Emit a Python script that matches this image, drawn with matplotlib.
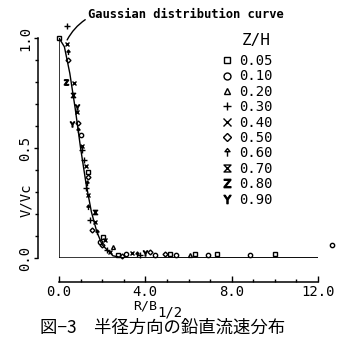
import matplotlib
matplotlib.use("Agg")
import matplotlib.pyplot as plt
from matplotlib.path import Path
from matplotlib.lines import Line2D

plt.rcParams["font.family"] = ["DejaVu Sans Mono", "DejaVu Sans"]

# Z/H groups and their marker keys
z_labels = ["0.05", "0.10", "0.20", "0.30", "0.40", "0.50", "0.60", "0.70", "0.80", "0.90"]

# Measured points (R/B1/2, V/Vc, group index)
pts_x = [0.0, 0.37, 0.37, 0.42, 0.42, 0.32, 0.69, 0.65, 0.83, 0.83,
         0.60, 0.88, 0.88, 1.02, 1.06, 1.06, 1.16, 1.25, 1.34, 1.34,
         1.30, 1.25, 1.34, 1.34, 1.67, 1.44, 1.67, 1.53, 1.76, 1.90,
         1.99, 2.13, 2.04, 2.50, 2.22, 2.36, 2.73, 2.92, 3.10, 3.38,
         3.61, 3.75, 3.98, 4.21, 4.44, 4.91, 5.14, 5.42, 6.06, 6.30,
         6.90, 7.31, 8.84, 10.0, 12.64]
pts_y = [1.0, 1.055, 0.973, 0.936, 0.90, 0.80, 0.795, 0.741, 0.686, 0.664,
         0.609, 0.614, 0.582, 0.559, 0.509, 0.491, 0.445, 0.418, 0.391, 0.368,
         0.341, 0.318, 0.286, 0.232, 0.209, 0.173, 0.164, 0.127, 0.118, 0.073,
         0.059, 0.082, 0.095, 0.050, 0.036, 0.027, 0.014, 0.009, 0.018, 0.023,
         0.018, 0.014, 0.023, 0.027, 0.014, 0.018, 0.018, 0.014, 0.014, 0.018,
         0.014, 0.018, 0.014, 0.018, 0.06]
pts_g = [0, 3, 4, 6, 5, 8, 4, 7, 9, 4,
         9, 5, 6, 1, 4, 3, 3, 4, 0, 5,
         6, 3, 4, 6, 7, 3, 4, 5, 6, 1,
         5, 4, 0, 2, 3, 4, 0, 5, 1, 4,
         6, 3, 9, 5, 1, 5, 0, 1, 2, 0,
         1, 0, 1, 0, 1]

# Gaussian distribution curve
curve_x = [0.0, 0.25, 0.5, 0.75, 1.0, 1.25, 1.5, 1.75, 2.0, 2.5, 3.0, 4.0, 12.0]
curve_y = [1.0, 0.96, 0.84, 0.68, 0.50, 0.34, 0.21, 0.12, 0.06, 0.01, 0.0, 0.0, 0.0]

xticks = [0, 4, 8, 12]
xtick_labels = ["0.0", "4.0", "8.0", "12.0"]
yticks = [0.0, 0.5, 1.0]
ytick_labels = ["0.0", "0.5", "1.0"]

# custom marker shapes
arrow_mk = Path([(0, -1), (0, 0.3), (-0.6, 0.2), (0, 0.95), (0.6, 0.2), (-0.6, 0.2)],
                [Path.MOVETO, Path.LINETO, Path.MOVETO, Path.LINETO, Path.LINETO, Path.CLOSEPOLY])
hourglass_mk = Path([(-1, 1), (1, 1), (-1, -1), (1, -1), (-1, 1)],
                    [Path.MOVETO, Path.LINETO, Path.LINETO, Path.LINETO, Path.CLOSEPOLY])
markers = ["s", "o", "^", "+", "x", "D", arrow_mk, hourglass_mk, r"$\mathrm{Z}$", r"$\mathrm{Y}$"]
msizes = [5, 5, 4.5, 6, 5.5, 4, 6, 5, 6, 6]

fig = plt.figure(figsize=(3.5, 3.39), dpi=100)
ax = fig.add_axes([59 / 350, 81 / 339, 259 / 350, 220 / 339])
ax.set_xlim(0, 12)
ax.set_ylim(0, 1)

# inner frame
ax.plot([0, 0], [0, 1], color="black", lw=1.1)
ax.plot([0, 12], [0, 0], color="black", lw=1.1)

ax.plot(curve_x, curve_y, color="black", lw=1.0)

for gi in range(len(z_labels)):
    xs = [x for x, g in zip(pts_x, pts_g) if g == gi]
    ys = [y for y, g in zip(pts_y, pts_g) if g == gi]
    ax.plot(xs, ys, linestyle="none", marker=markers[gi], markersize=msizes[gi] * 0.62,
            markerfacecolor="none", markeredgecolor="black", markeredgewidth=1.0,
            clip_on=False)

# axes styling
for s in ["top", "right"]:
    ax.spines[s].set_visible(False)
ax.spines["left"].set_position(("outward", 15.1))
ax.spines["bottom"].set_position(("outward", 17.3))
ax.spines["left"].set_linewidth(1.1)
ax.spines["bottom"].set_linewidth(1.1)

ax.set_xticks(xticks)
ax.set_xticklabels(xtick_labels, fontsize=10)
ax.set_xticks(range(0, 13), minor=True)
ax.tick_params(axis="x", which="major", direction="in", length=4, width=1, pad=2)
ax.tick_params(axis="x", which="minor", direction="in", length=2.5, width=1)

ax.set_yticks(yticks)
ax.set_yticklabels(ytick_labels, fontsize=10, rotation=90, va="center")
ax.set_yticks([i / 10 for i in range(11)], minor=True)
ax.tick_params(axis="y", which="major", direction="out", length=3, width=1, pad=1)
ax.tick_params(axis="y", which="minor", direction="out", length=2, width=1)

fig.text(26, 339 - 200, "V/Vc", transform=None, fontsize=10, rotation=90,
         ha="center", va="center")
fig.text(133, 339 - 306, "R/B", transform=None, fontsize=9.5, ha="left", va="center")
fig.text(157, 339 - 312, "1/2", transform=None, fontsize=10, ha="left", va="center")
fig.text(40, 339 - 328, "図−3　半径方向の鉛直流速分布", transform=None, fontsize=12.5,
         family=["Noto Sans CJK JP", "DejaVu Sans"], ha="left", va="center")

ax.annotate("Gaussian distribution curve", xy=(0.32, 0.98), xycoords="data",
            xytext=(88, 339 - 14), textcoords="figure pixels",
            fontsize=8.7, fontweight="bold", ha="left", va="center",
            arrowprops=dict(arrowstyle="-", color="black", lw=1.0,
                            relpos=(0, 0.2), shrinkA=0, shrinkB=2,
                            connectionstyle="arc3,rad=0.15"))

fig.text(256, 339 - 41, "Z/H", transform=None, fontsize=11.5, ha="center", va="center")

handles = [Line2D([], [], linestyle="none", marker=markers[i], markersize=msizes[i],
                  markerfacecolor="none", markeredgecolor="black", markeredgewidth=1.0)
           for i in range(len(z_labels))]
leg = fig.legend(handles, z_labels, loc="upper left", bbox_to_anchor=(220 / 350, 1 - 54 / 339),
                 frameon=False, fontsize=10,
                 handlelength=1.0, handletextpad=0.4, labelspacing=0.1,
                 borderpad=0.0, borderaxespad=0.0)

fig.savefig("out.png", dpi=100)
